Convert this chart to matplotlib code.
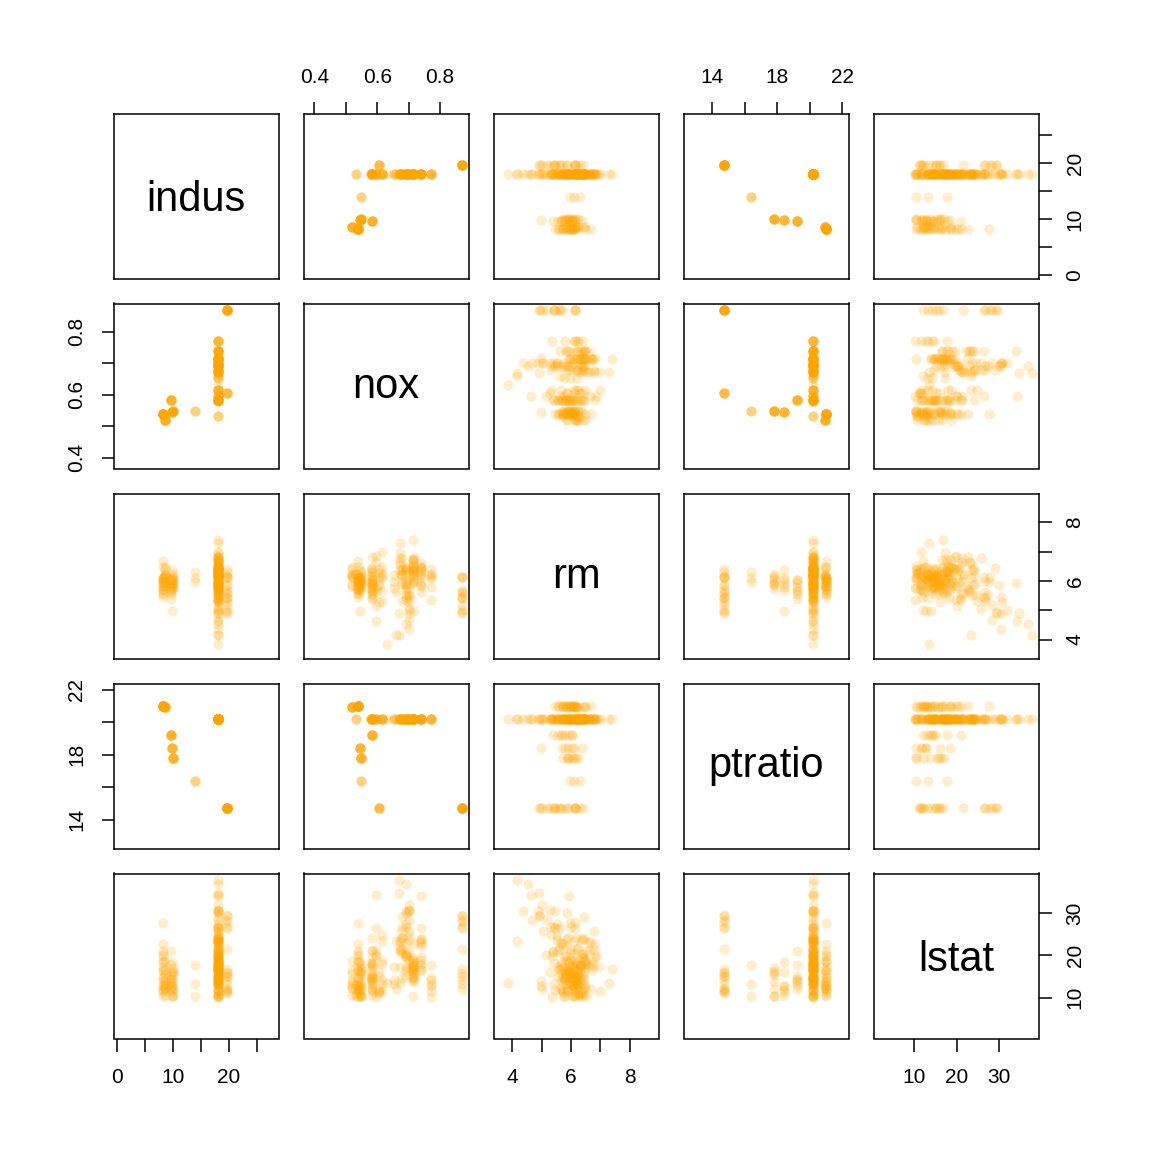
import matplotlib
matplotlib.use("Agg")
import matplotlib.pyplot as plt
from matplotlib.textpath import TextPath
from matplotlib.font_manager import FontProperties

plt.rcParams['font.family'] = ['Liberation Sans', 'DejaVu Sans']

var_names = ["indus", "nox", "rm", "ptratio", "lstat"]

# ---- data ----
indus = ([8.14] * 19 + [8.56] * 9 + [9.69] * 8 + [9.90] * 7 + [10.01] * 8 + [13.89] * 3
         + [19.58] * 13 + [19.58] * 6 + [18.1] * 122)
nox = ([0.538] * 19 + [0.52] * 9 + [0.585] * 8 + [0.544] * 7 + [0.547] * 8 + [0.55] * 3
       + [0.871] * 13 + [0.605] * 6
       + [0.77] * 7 + [0.718, 0.631, 0.668, 0.668] + [0.671] * 7 + [0.7] * 11 + [0.693] * 13
       + [0.659, 0.659] + [0.597] * 6 + [0.693] + [0.679] * 4 + [0.718] * 3 + [0.614, 0.614]
       + [0.584, 0.679, 0.584, 0.679, 0.679, 0.679, 0.584, 0.584, 0.584, 0.713, 0.713]
       + [0.74] * 13 + [0.713] * 16 + [0.655] * 3 + [0.584, 0.58, 0.58, 0.58, 0.532, 0.58, 0.614,
                                                    0.584, 0.584, 0.614, 0.614, 0.614, 0.614,
                                                    0.532, 0.532, 0.583, 0.583, 0.583, 0.583])
rm = ([6.096, 5.990, 5.456, 5.727, 5.570, 5.965, 6.142, 5.813, 5.924, 5.599, 5.813, 6.047, 6.495,
       6.674, 5.713, 6.072, 5.950, 5.701, 6.096]
      + [6.405, 6.137, 6.167, 5.851, 5.836, 6.127, 6.474, 6.229, 6.195]
      + [5.707, 5.926, 5.670, 5.390, 5.794, 6.019, 5.569, 6.027]
      + [4.973, 6.023, 5.705, 5.914, 5.782, 6.382, 6.113]
      + [5.913, 6.092, 6.254, 5.928, 6.176, 6.021, 5.872, 5.731]
      + [6.30, 5.95, 6.10]
      + [5.403, 5.468, 4.903, 6.130, 5.628, 4.926, 5.186, 5.597, 6.122, 5.404, 5.012, 5.709, 6.129]
      + [6.152, 5.272, 5.854, 5.877, 6.319, 6.402]
      + [6.212, 6.395, 6.127, 6.112, 6.251, 5.362, 5.803, 4.963, 3.863, 4.906, 4.138,
         7.313, 6.649, 6.794, 6.380, 6.223, 6.968, 6.545,
         5.536, 5.520, 4.368, 5.277, 4.652, 5.000, 4.880, 5.390, 5.713, 6.051, 5.036,
         6.193, 5.887, 6.471, 6.405, 5.747, 5.453, 5.852, 5.987, 6.343, 6.404, 5.349, 5.531, 5.683,
         4.138, 5.608, 5.617, 6.852, 5.757, 6.657, 4.628, 5.155, 4.519,
         6.434, 6.782, 5.304, 5.957, 6.824, 6.411, 6.006, 5.648, 6.103,
         5.565, 5.896, 5.837, 6.202, 6.193, 6.380, 6.348, 6.833, 6.425, 6.436, 6.208,
         6.629, 6.461, 6.152, 5.935, 5.627, 5.818, 6.406, 6.219, 6.485, 5.854, 6.459, 6.341, 6.251,
         6.185, 6.417, 6.749, 6.655, 6.297, 7.393, 6.728, 6.525, 5.976, 5.936, 6.301, 6.081, 6.701,
         6.376, 6.317, 6.513,
         6.209, 5.759, 5.952, 6.003, 5.926, 5.713, 6.167, 6.229, 6.437, 6.980, 5.427, 6.162,
         6.484, 5.304, 6.185, 6.229, 6.242, 5.762, 5.871, 6.312, 6.114, 5.905])
ptratio = ([21.0] * 19 + [20.9] * 9 + [19.2] * 8 + [18.4] * 7 + [17.8] * 8 + [16.4] * 3
           + [14.7] * 19 + [20.2] * 122)
lstat = ([10.26, 14.67, 11.69, 11.28, 21.02, 13.83, 18.72, 19.88, 16.30, 16.51, 14.81, 17.28,
          12.80, 11.98, 22.60, 13.04, 27.71, 18.35, 20.34]
         + [10.63, 13.44, 12.33, 16.47, 18.66, 14.09, 12.27, 15.55, 13.00]
         + [12.01, 13.59, 17.60, 21.14, 14.10, 12.92, 15.10, 14.33]
         + [12.64, 11.72, 11.50, 18.33, 15.94, 10.36, 12.73]
         + [16.21, 17.09, 10.45, 15.76, 12.04, 10.30, 15.37, 13.61]
         + [17.6, 13.3, 10.4]
         + [26.82, 26.42, 29.29, 27.80, 16.65, 29.53, 28.32, 21.45, 14.10, 13.28, 12.12, 15.79, 15.12]
         + [15.02, 16.14, 11.64, 12.14, 11.10, 11.32]
         + [17.60, 13.27, 11.48, 12.67, 14.19, 10.19, 14.64, 14.00, 13.33, 34.77, 37.97,
            13.44, 23.24, 21.24, 23.69, 21.78, 17.21, 21.08,
            23.60, 24.56, 30.63, 30.81, 28.28, 31.99, 30.62, 20.85, 17.11, 18.76, 25.68,
            15.17, 16.35, 17.12, 19.37, 19.92, 30.59, 29.97, 26.77, 20.32, 20.31, 19.77, 27.38, 22.98,
            23.34, 12.13, 26.40, 19.78, 10.11, 21.22, 34.37, 20.08, 36.98,
            29.05, 25.79, 26.64, 20.62, 22.74, 15.02, 15.70, 14.10, 23.29,
            17.16, 24.39, 15.69, 14.52, 21.52, 24.08, 17.64, 19.69, 12.03, 16.22, 15.17,
            23.27, 18.05, 26.45, 34.02, 22.88, 22.11, 19.52, 16.59, 18.85, 23.79, 23.98, 17.79, 16.44,
            18.13, 19.31, 17.44, 17.73, 17.27, 16.74, 18.71, 18.13, 19.01, 16.94, 16.23, 14.70, 16.42,
            14.65, 13.99, 10.29,
            13.22, 14.13, 17.15, 21.32, 18.13, 14.76, 16.29, 12.87, 14.36, 11.66, 18.14, 24.10,
            18.68, 24.91, 18.03, 13.11, 10.74, 10.42, 13.34, 10.58, 14.98, 11.45])

# full data ranges used for the axis limits
range_lo = [0.46, 0.385, 3.561, 12.6, 1.73]
range_hi = [27.74, 0.871, 8.78, 22.0, 37.97]

tick_vals = [[0, 5, 10, 15, 20, 25],
             [0.4, 0.5, 0.6, 0.7, 0.8],
             [4, 5, 6, 7, 8],
             [14, 16, 18, 20, 22],
             [10, 20, 30]]
tick_labs = [["0", "", "10", "", "20", ""],
             ["0.4", "", "0.6", "", "0.8"],
             ["4", "", "6", "", "8"],
             ["14", "", "18", "", "22"],
             ["10", "20", "30"]]

data = [indus, nox, rm, ptratio, lstat]

W = 1152.0
PANEL = 165.0
DIAG_SIZE = 30
fig = plt.figure(figsize=(11.52, 11.52), dpi=100)
fig.patch.set_facecolor("white")
fprop = FontProperties(family="Liberation Sans")

n = 5
for i in range(n):
    for j in range(n):
        left = (113.5 + 190 * j) / W
        bottom = 1 - (113.5 + 190 * i + PANEL) / W
        ax = fig.add_axes([left, bottom, PANEL / W, PANEL / W])
        xpad = (range_hi[j] - range_lo[j]) * 0.04
        ypad = (range_hi[i] - range_lo[i]) * 0.04
        ax.set_xlim(range_lo[j] - xpad, range_hi[j] + xpad)
        ax.set_ylim(range_lo[i] - ypad, range_hi[i] + ypad)
        for sp in ax.spines.values():
            sp.set_linewidth(1.1)
            sp.set_color("black")
        if i == j:
            # centre the ink of the label in the panel
            ext = TextPath((0, 0), var_names[i], size=DIAG_SIZE, prop=fprop).get_extents()
            ink_mid_px = (ext.y0 + ext.y1) / 2 * 100 / 72
            y_base = 0.5 + (-0.5 - ink_mid_px) / PANEL
            ax.text(0.5, y_base, var_names[i], ha="center", va="baseline",
                    fontsize=DIAG_SIZE, transform=ax.transAxes)
        else:
            ax.scatter(data[j], data[i], s=54, c="#FFA500", alpha=0.2,
                       linewidths=0, zorder=2)
        ax.set_xticks(tick_vals[j])
        ax.set_xticklabels(tick_labs[j])
        ax.set_yticks(tick_vals[i])
        ax.set_yticklabels(tick_labs[i])
        ax.tick_params(which="both", bottom=False, top=False, left=False, right=False,
                       labelbottom=False, labeltop=False, labelleft=False, labelright=False,
                       direction="out", length=9, width=1.1, labelsize=15, pad=10)
        if i == 0 and j % 2 == 1:
            ax.tick_params(axis="x", top=True, labeltop=True, pad=10)
        if i == n - 1 and j % 2 == 0:
            ax.tick_params(axis="x", bottom=True, labelbottom=True, pad=12)
        if j == 0 and i % 2 == 1:
            ax.tick_params(axis="y", left=True, labelleft=True, labelrotation=90, pad=10.5)
        if j == n - 1 and i % 2 == 0:
            ax.tick_params(axis="y", right=True, labelright=True, labelrotation=90, pad=10.5)
        for lab in ax.get_yticklabels():
            lab.set_verticalalignment("center")

fig.savefig("out.png", dpi=100, facecolor="white")
